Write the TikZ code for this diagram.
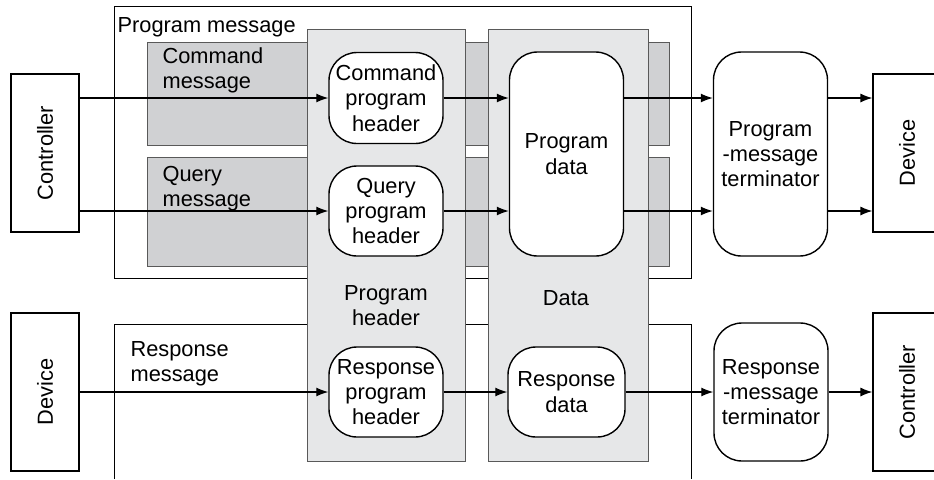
\documentclass[tikz,border=0pt]{standalone}
\usepackage{fontspec}
\setmainfont{Liberation Sans}
\usepackage{tikz}
\usetikzlibrary{arrows.meta,positioning}
\definecolor{msggray}{RGB}{208,209,211}
\definecolor{colgray}{RGB}{230,231,232}
\tikzset{
  frame/.style={draw,fill=white,line width=0.5pt},
  msgbox/.style={draw=black!65,fill=msggray,line width=0.4pt},
  colbox/.style={draw=black!65,fill=colgray,line width=0.4pt},
  blk/.style={draw,fill=white,minimum width=34pt,minimum height=79pt,inner sep=0pt},
  rnd/.style={draw,fill=white,rounded corners=14pt,minimum width=57pt,inner sep=0.5pt,align=center,line width=0.7pt},
  lbl/.style={inner sep=0pt,align=left,anchor=north west}
}
\begin{document}
\begin{tikzpicture}[->,>={Latex[length=6pt,width=4.5pt]},semithick,x=0.5pt,y=-0.5pt,font=\fontsize{10.9}{12.6}\selectfont]
			 \useasboundingbox (0,0) rectangle (934,479);
			 \clip (0,0) rectangle (934,479);
			 \draw[frame] (114,6) rectangle (691,278);
			 \draw[msgbox] (147,42) rectangle (669,145);
			 \draw[msgbox] (147,157) rectangle (669,266);
			 \draw[-,line width=0.5pt] (114,479) -- (114,324) -- (691,324) -- (691,479);
			 \draw[colbox] (307,29) rectangle (465,461);
			 \draw[colbox] (488,29) rectangle (648,461);
			 \node[lbl] (M) at (117,16.5) {Program message};
			 \node[lbl] (P) at (162,47) {Command\\message};
			 \node[lbl] (Q) at (162,165.5) {Query\\message};
			 \node[lbl] (R) at (130,341) {Response\\message};
			 \node[inner sep=0pt,align=center,anchor=north] (H) at (386,285) {Program\\header};
			 \node[inner sep=0pt,anchor=north] (D) at (566,290) {Data};
			 \node[blk] (A) at (45,153) {\rotatebox{90}{Controller}};
			 \node[rnd,minimum height=45.5pt] (B) at (386,98) {Command\\program\\header};
			 \node[rnd,minimum height=45pt] (C) at (386,211) {Query\\program\\header};
			 \node[rnd,minimum height=102pt] (E) at (566.5,154) {Program\\data};
			 \node[rnd,minimum height=102pt] (F) at (770.5,154) {Program\\-message\\terminator};
			 \node[blk] (G) at (907,153) {\rotatebox{90}{Device}};
			 \node[blk] (I) at (45,392) {\rotatebox{90}{Device}};
			 \node[rnd,minimum height=45pt] (J) at (386,392) {Response\\program\\header};
			 \node[rnd,minimum height=45pt,minimum width=58.5pt] (K) at (566.5,392) {Response\\data};
			 \node[rnd,minimum height=69pt] (L) at (771,392) {Response\\-message\\terminator};
			 \node[blk] (N) at (907,392) {\rotatebox{90}{Controller}};
			 \path
			 (A.east |- B) edge (B)
			 (A.east |- C) edge (C)
			 (B) edge (B -| E.west)
			 (C) edge (C -| E.west)
			 (E.east |- B) edge (F.west |- B)
			 (E.east |- C) edge (F.west |- C)
			 (F.east |- B) edge (G.west |- B)
			 (F.east |- C) edge (G.west |- C)
			 (I) edge (J)
			 (J) edge (K)
			 (K) edge (L)
			 (L) edge (N);
 			 \end{tikzpicture}
\end{document}
